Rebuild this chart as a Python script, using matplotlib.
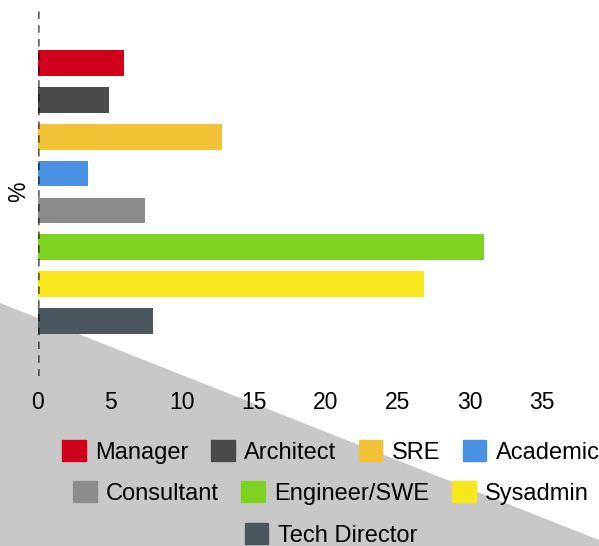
import matplotlib.pyplot as plt
from matplotlib.patches import Polygon, Patch

plt.rcParams['font.family'] = ['Liberation Sans', 'DejaVu Sans']

# data
roles = ['Manager', 'Architect', 'SRE', 'Academic', 'Consultant',
         'Engineer/SWE', 'Sysadmin', 'Tech Director']
percent = [6.0, 4.9, 12.8, 3.5, 7.4, 31.0, 26.8, 8.0]
colors = ['#d0021b', '#4a4a4a', '#f4c236', '#4a90e2', '#8b8b8b',
          '#7ed321', '#f8e71c', '#4a575d']
xticks = [0, 5, 10, 15, 20, 25, 30, 35]

fig = plt.figure(figsize=(5.99, 5.46), dpi=100)

# grey diagonal background in the lower left
tri = Polygon([(0, 1 - 303 / 546), (1, 1 - 540 / 546), (1, 0), (0, 0)],
              closed=True, transform=fig.transFigure, facecolor='#c8c8c8',
              edgecolor='none', zorder=-5)
fig.patches.append(tri)

ax = fig.add_axes([38 / 599, 1 - 376 / 546, 552 / 599, 368 / 546])
ax.set_facecolor('none')
ax.set_zorder(2)

ypos = list(range(len(roles)))
ax.barh(ypos, percent, height=0.7, color=colors, zorder=2)
ax.set_ylim(len(roles) + 0.5, -1.5)
ax.set_xlim(0, 38.33)

ax.axvline(0, color='black', alpha=0.6, lw=1.8, ls=(0, (3, 2.5)), zorder=3)

for s in ax.spines.values():
    s.set_visible(False)
ax.set_yticks([])
ax.set_xticks(xticks)
ax.tick_params(axis='x', length=0, pad=11, labelsize=16.5)
ax.set_ylabel('%', fontsize=16.5, labelpad=6)

# legend rows, centred like a wrapping html legend
rows = [[0, 1, 2, 3], [4, 5, 6], [7]]
row_y = [452, 493, 535]
for idx, yy in zip(rows, row_y):
    handles = [Patch(facecolor=colors[i], edgecolor=colors[i], label=roles[i])
               for i in idx]
    leg = fig.legend(handles=handles, loc='center',
                     bbox_to_anchor=(331 / 599, 1 - yy / 546),
                     ncol=len(idx), frameon=False, fontsize=17,
                     handlelength=1.0, handleheight=1.0,
                     handletextpad=0.4, columnspacing=0.95,
                     borderpad=0, borderaxespad=0)
    leg.set_zorder(3)

fig.savefig('out.png', dpi=100)
